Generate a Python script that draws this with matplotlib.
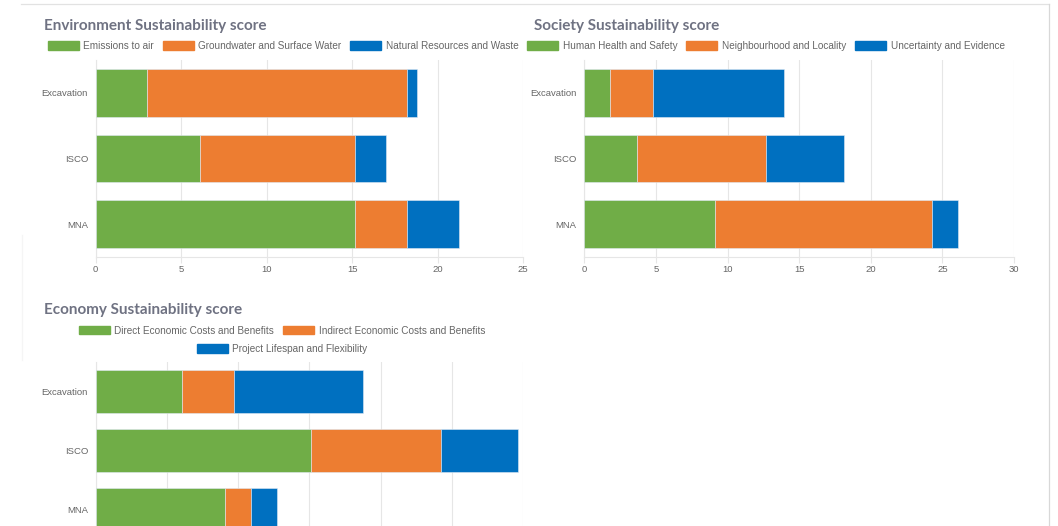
import matplotlib.pyplot as plt
from matplotlib.patches import Patch
from matplotlib.lines import Line2D

W, H = 1058, 526

methods = ['Excavation', 'ISCO', 'MNA']

env_labels = ['Emissions to air', 'Groundwater and Surface Water', 'Natural Resources and Waste']
env_emissions = [3.0, 6.1, 15.2]
env_water = [15.2, 9.1, 3.0]
env_resources = [0.6, 1.8, 3.05]

soc_labels = ['Human Health and Safety', 'Neighbourhood and Locality', 'Uncertainty and Evidence']
soc_health = [1.8, 3.65, 9.1]
soc_locality = [3.0, 9.05, 15.15]
soc_uncertainty = [9.15, 5.45, 1.83]

eco_labels = ['Direct Economic Costs and Benefits', 'Indirect Economic Costs and Benefits',
              'Project Lifespan and Flexibility']
eco_direct = [6.05, 15.15, 9.1]
eco_indirect = [3.65, 9.1, 1.8]
eco_lifespan = [9.1, 5.4, 1.83]

colors = ['#70ad47', '#ed7d31', '#0070c0']
grid_c = '#e6e6e6'
tick_c = '#666666'
title_c = '#6f7282'

plt.rcParams['font.family'] = ['Liberation Sans', 'DejaVu Sans']

fig = plt.figure(figsize=(W / 100, H / 100), dpi=100)


def fx(px):
    return px / W


def fy(py):
    return 1 - py / H


def stacked(rect, series, xmax, xticks=True):
    ax = fig.add_axes(rect)
    left = [0] * len(methods)
    for vals, c in zip(series, colors):
        ax.barh(methods, vals, left=left, height=0.73, color=c, edgecolor='#dfe9f3', linewidth=0.4, zorder=3)
        left = [a + b for a, b in zip(left, vals)]
    ax.set_xlim(0, xmax)
    ax.set_ylim(2.5, -0.5)
    ax.set_xticks(range(0, xmax + 1, 5))
    ax.grid(axis='x', color=grid_c, linewidth=0.8, zorder=0)
    for s in ['top', 'right']:
        ax.spines[s].set_visible(False)
    for s in ['left', 'bottom']:
        ax.spines[s].set_color(grid_c)
        ax.spines[s].set_linewidth(0.8)
    ax.tick_params(axis='x', length=4.5, color=grid_c, pad=1.5, labelsize=6.8, labelcolor=tick_c)
    ax.tick_params(axis='y', length=0, pad=5.5, labelsize=6.8, labelcolor=tick_c)
    if not xticks:
        ax.tick_params(axis='x', labelbottom=False)
    return ax


def legend(labels, cols, cx, cy):
    handles = [Patch(facecolor=c, edgecolor=c) for c in cols]
    fig.legend(handles, labels, loc='center', bbox_to_anchor=(fx(cx), fy(cy)), ncol=len(labels),
               frameon=False, fontsize=7.2, labelcolor=tick_c, handlelength=3.1, handleheight=0.95,
               handletextpad=0.45, columnspacing=0.9, borderpad=0, borderaxespad=0)


# page border
fig.add_artist(Line2D([fx(21), fx(1049)], [fy(4), fy(4)], color='#e2e2e2', lw=0.9))
fig.add_artist(Line2D([fx(1049), fx(1049)], [fy(4), 0], color='#d8d8d8', lw=0.9))
fig.add_artist(Line2D([fx(22), fx(22)], [fy(235), fy(360)], color='#f5f5f5', lw=0.9))

# Environment
stacked([fx(95.7), fy(257), fx(427.3), 197 / H], [env_emissions, env_water, env_resources], 25)
fig.text(fx(44), fy(30), 'Environment Sustainability score', fontsize=11, fontweight='bold',
         color=title_c, family=['Lato', 'DejaVu Sans'], va='baseline')
legend(env_labels, colors, 283, 46)

# Society
stacked([fx(584.3), fy(257), fx(429.7), 197 / H], [soc_health, soc_locality, soc_uncertainty], 30)
fig.text(fx(534), fy(30), 'Society Sustainability score', fontsize=11, fontweight='bold',
         color=title_c, family=['Lato', 'DejaVu Sans'], va='baseline')
legend(soc_labels, colors, 766, 46)

# Economy (cut off at the bottom like the screenshot)
stacked([fx(95.7), fy(539), fx(427.3), 177 / H], [eco_direct, eco_indirect, eco_lifespan], 30, xticks=False)
fig.text(fx(44), fy(314), 'Economy Sustainability score', fontsize=11, fontweight='bold',
         color=title_c, family=['Lato', 'DejaVu Sans'], va='baseline')
legend(eco_labels[:2], colors[:2], 282, 330.5)
legend(eco_labels[2:], colors[2:], 282, 349)

fig.savefig('out.png', dpi=100, facecolor='white')
